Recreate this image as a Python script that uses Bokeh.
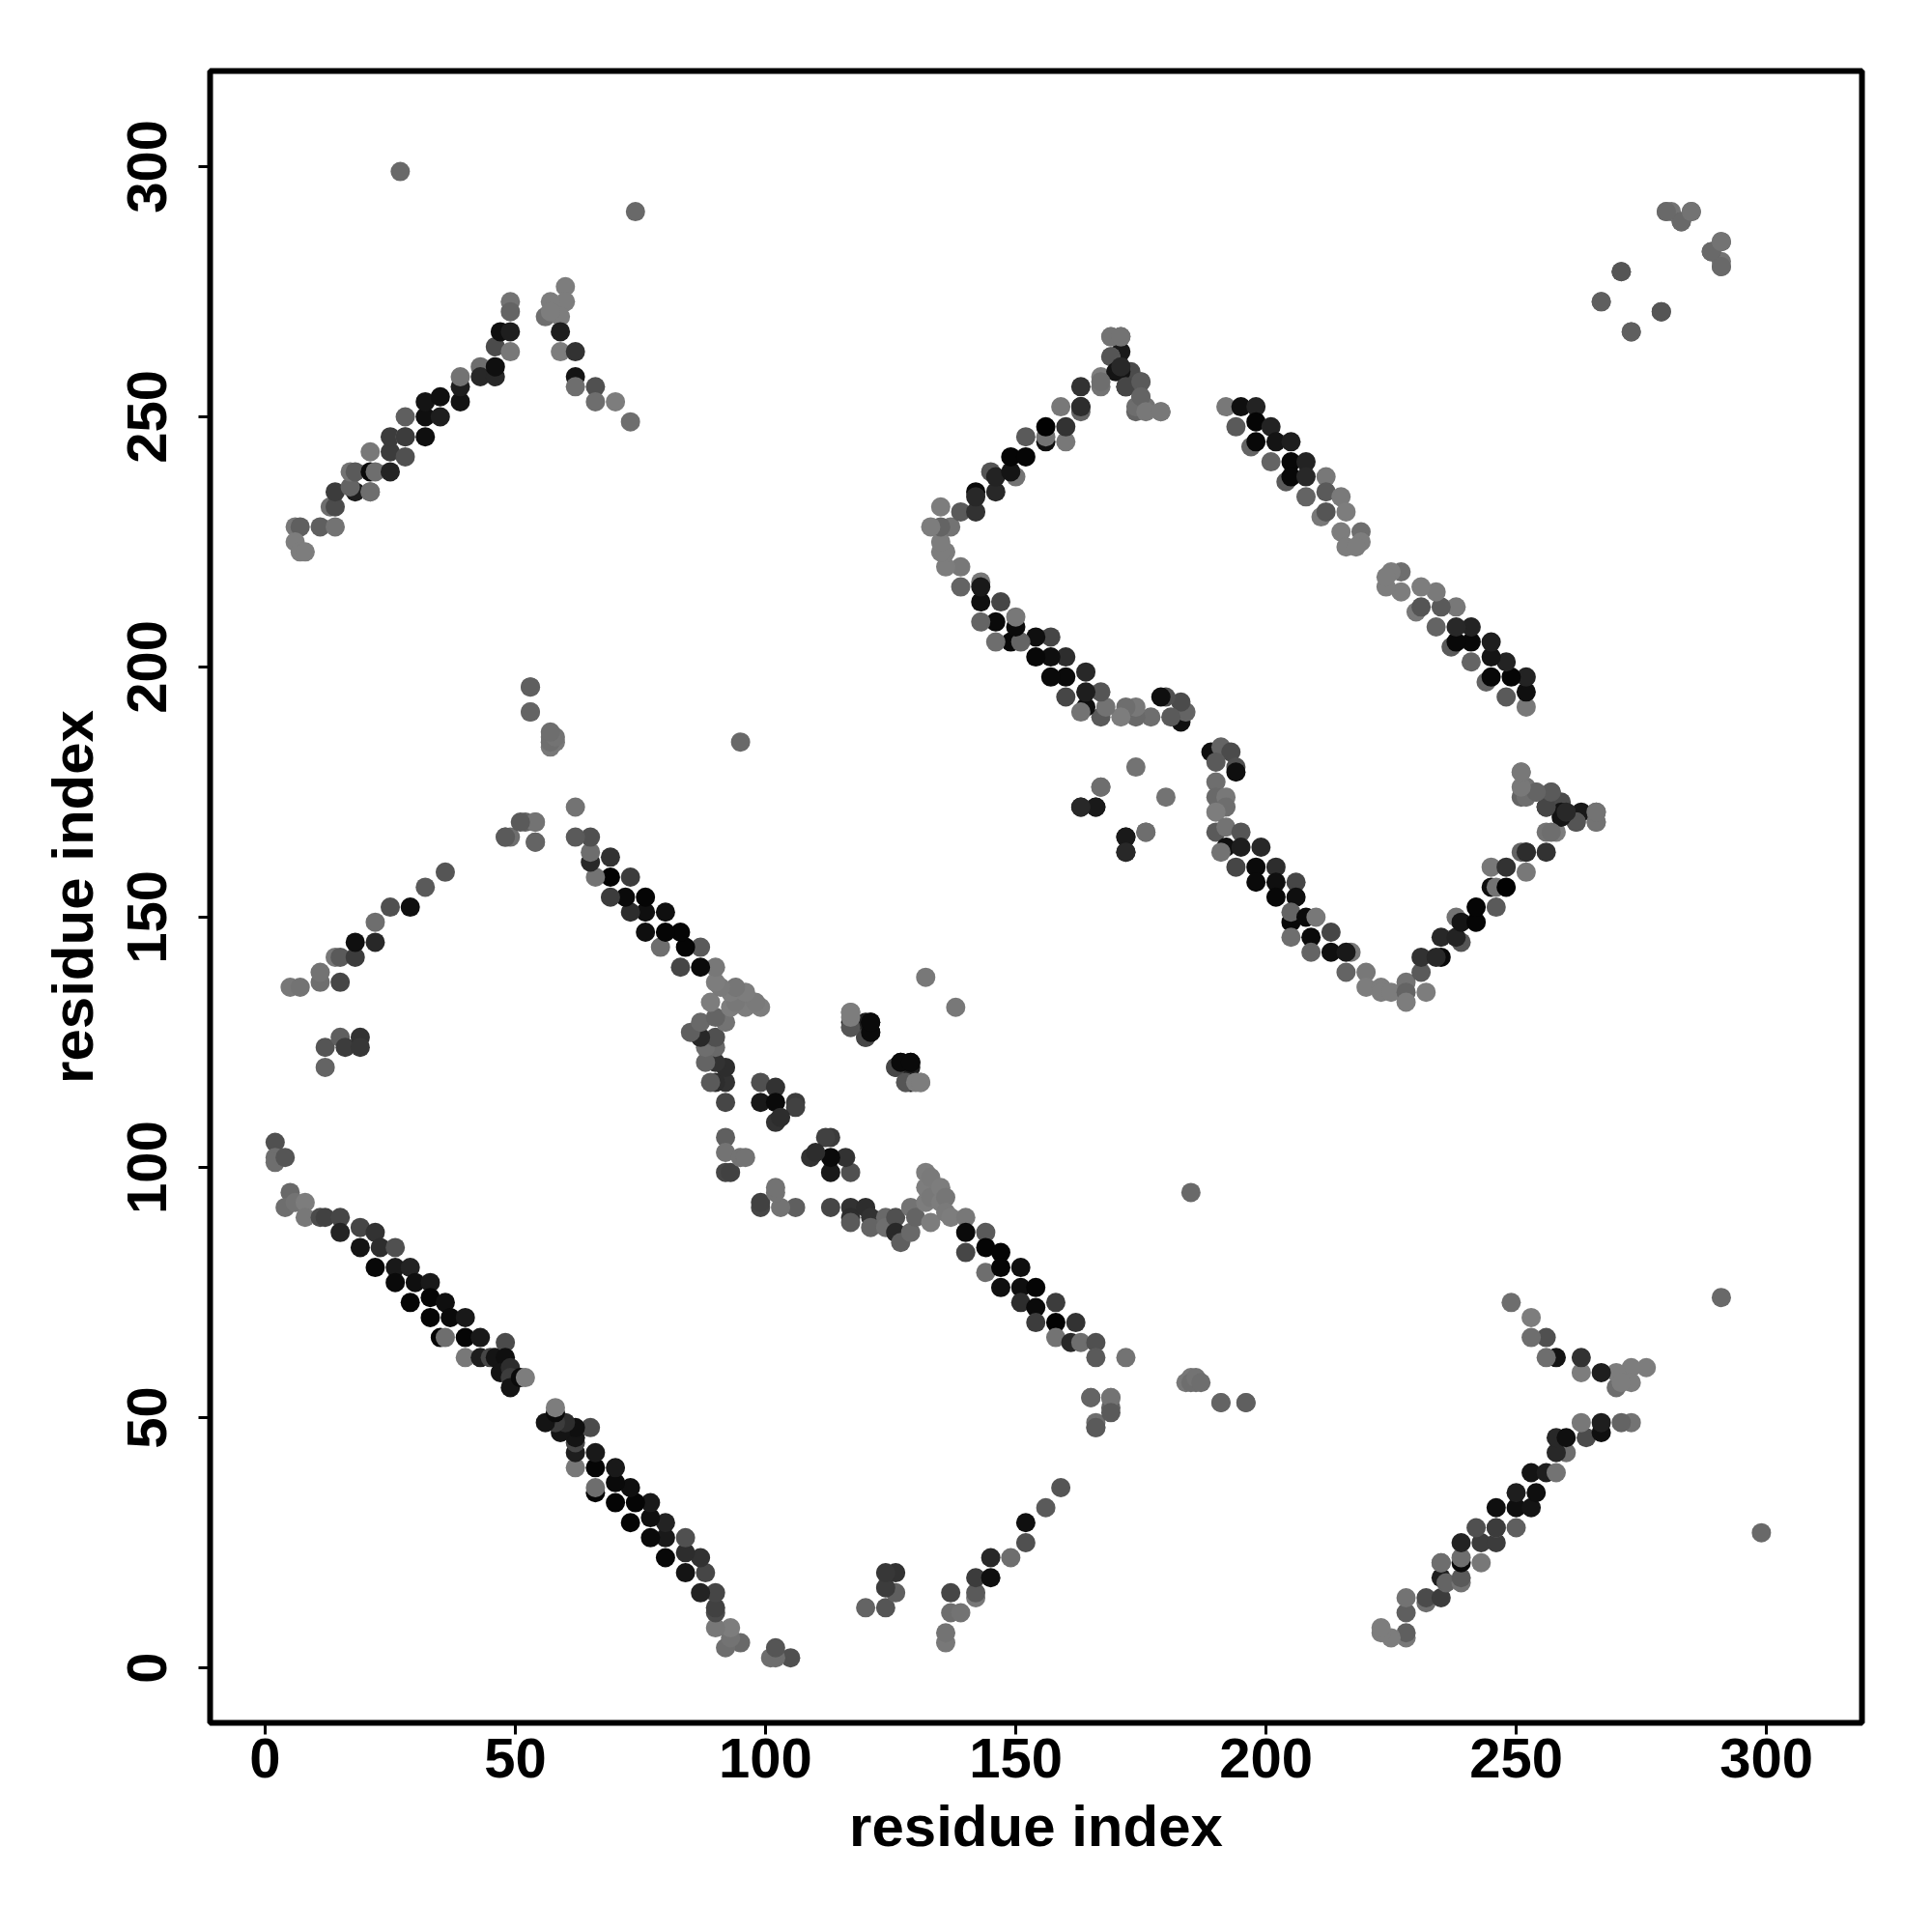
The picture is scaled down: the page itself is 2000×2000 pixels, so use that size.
from bokeh.plotting import figure
from bokeh.embed import file_html
from bokeh.resources import INLINE

# Each block: residue i, residue j, grey level (0 = black). The map is symmetric.
main_i = [2,2,2,4,5,4,6,8,8,11,12,15,15,19,19,22,22,23,26,26,26,29,30,29,33,33,33,36,37,40,35,36,40,40,43,43,45,46,48,48,47,49,49,49,51,52]
main_j = [105,102,101,102,95,92,93,93,90,90,90,90,87,88,84,87,80,84,84,80,77,80,77,73,77,74,70,73,70,70,66,66,62,66,66,62,62,62,65,62,59,60,58,56,58,58]
main_g = [80,110,110,85,105,110,115,125,120,75,65,70,35,70,20,50,8,45,80,25,10,35,15,5,25,5,5,15,10,25,5,110,120,5,25,30,70,20,75,15,20,45,60,20,10,125]

low_i = [113,117,117,117,120,121,121,124,124,126,126,127,129,129,130,132,132,132,133,133,135,135,133,136,136,137,140,140,140,144,144,147,144,147,147,151,151,154,151,154,154,158,158,162,158,161,163,166,166,172]
low_j = [92,92,90,89,92,90,88,90,88,90,87,85,92,87,90,99,96,93,98,94,96,93,89,94,91,90,90,87,83,87,84,83,79,80,76,80,76,76,73,72,69,73,69,69,66,65,65,65,62,62]
low_g = [70,50,45,90,45,50,100,105,110,80,40,95,115,105,100,125,125,125,122,120,125,125,125,118,122,125,120,10,70,90,5,5,110,5,15,15,15,5,45,10,60,60,2,50,115,40,110,80,90,115]

mid_i = [99,102,99,102,106,106,102,103,92,92,92,93,95,96,117,117,117,120,121,121,120,132,126,127,129,128,130,131]
mid_j = [117,116,113,113,113,112,109,110,106,103,99,99,102,102,131,129,128,129,129,127,126,138,120,121,121,117,117,117]
mid_g = [80,50,25,10,60,65,50,45,95,115,70,65,115,115,125,20,110,30,12,25,70,120,70,10,10,85,125,125]

strip_i = [189,191,193,190,194,194,190,190,192,192,190,190,192,195,192,191,195,199,194,198,202,198,202,206,202,206,205,205,208,210,205,209,213,209,213,217,216,216,220,220,223,223,225,228,228,228,232,231,231,235,234,235,239,238,238,239,242,242,246,245,246,248,245,248,252,252,251,256,256,258,251,252,251,252,254,257,256,259,259,263,262,266,266]
strip_j = [183,184,183,181,180,179,177,174,174,172,171,167,168,167,164,163,164,164,160,160,160,157,157,157,154,154,149,151,150,150,146,146,147,143,143,143,143,139,139,136,136,135,135,137,135,133,135,139,142,142,142,146,145,146,150,149,149,152,152,156,156,156,160,160,159,163,163,163,167,167,179,176,174,174,175,175,172,173,171,171,169,169,171]
strip_g = [15,100,75,90,80,15,110,105,120,110,125,90,115,85,15,115,30,40,70,10,45,10,15,70,8,15,8,100,10,120,110,10,70,100,15,120,25,100,120,125,125,125,125,115,100,125,125,90,50,10,40,40,85,35,115,20,5,5,90,15,115,2,120,50,120,15,100,50,115,125,125,115,100,110,120,90,15,75,20,25,115,120,90]

apex_i = [169,171,169,170,171,172,175,175,176,179,167,163]
apex_j = [266,266,262,259,260,256,257,254,251,251,257,252]
apex_g = [115,115,85,20,40,70,90,100,120,120,110,45]

pair_i = [192,195,198,194,198,201,197,198,202,205,201,205,208,204,205,208,212,208,212,215,211,212,216,215,219,216,219,218]
pair_j = [252,252,252,248,249,248,244,245,245,245,241,241,241,237,238,238,238,234,235,234,230,231,231,227,227,224,225,224]
pair_g = [120,15,35,90,5,35,100,8,20,30,100,8,35,90,8,40,120,100,90,122,120,85,125,125,110,125,125,125]

upper_i = [6,7,6,7,8,11,14,13,14,14,18,17,21,21,17,18,21,22,25,21,25,25,28,28,28,32,28,32,35,32,35,39,39,39,43,43,46,46,46,47,49,49,49,49]
upper_j = [228,228,225,223,223,228,228,232,232,235,235,236,235,235,239,239,239,239,239,243,243,246,242,246,246,246,250,250,250,253,254,253,256,258,260,258,258,260,264,267,267,263,273,271]
upper_g = [120,95,125,125,125,95,115,110,75,60,30,100,100,110,115,90,10,110,35,120,60,60,80,120,60,15,95,15,30,20,15,20,30,115,110,40,40,15,75,15,30,120,115,100]

peak_i = [60,60,57,56,59,57,59,59,62,62,62,66,66,70,73,49,52,54,54,48,57,57,58]
peak_j = [276,273,273,270,270,271,267,263,263,258,256,256,253,253,249,166,169,169,165,166,184,186,185]
peak_g = [125,125,125,110,125,125,30,125,50,20,110,80,110,125,110,110,100,105,100,105,120,115,120]

side_i = [5,7,11,11,15,14,15,18,18,22,22,25,29,32,36,12,12,15,16,19,19,53,53,95,74,27]
side_j = [136,136,137,139,137,142,142,142,145,145,149,152,152,156,159,124,120,126,124,126,124,196,191,185,291,299]
side_g = [120,115,110,115,70,120,90,60,15,40,110,80,15,90,85,85,100,95,60,50,55,100,115,105,105,105]

near_i = [163,166,167,174,172,176,172,267,271,273,279,280,281,283,285,289,291,291,165,169,166,169]
near_j = [172,172,176,180,166,167,163,273,279,267,271,291,291,289,291,283,285,280,54,54,48,51]
near_g = [30,35,110,115,25,110,40,105,70,95,85,115,115,95,95,105,115,105,100,115,90,90]

far_i = [185,186,187,191,196]
far_j = [57,58,57,53,53]
far_g = [110,115,110,100,95]

x_ticks = [0, 50, 100, 150, 200, 250, 300]
x_label = "residue index"
y_label = "residue index"

blocks = [
    (main_i, main_j, main_g), (low_i, low_j, low_g), (mid_i, mid_j, mid_g),
    (strip_i, strip_j, strip_g), (apex_i, apex_j, apex_g), (pair_i, pair_j, pair_g),
    (upper_i, upper_j, upper_g), (peak_i, peak_j, peak_g), (side_i, side_j, side_g),
    (near_i, near_j, near_g), (far_i, far_j, far_g),
]

xs, ys, cols = [], [], []
for bi, bj, bg in blocks:
    for a, b, g in zip(bi, bj, bg):
        c = "#%02x%02x%02x" % (g, g, g)
        xs += [a, b]
        ys += [b, a]
        cols += [c, c]

p = figure(
    frame_width=1710, frame_height=1710,
    x_range=(-11, 319.1), y_range=(-11, 319.1),
    output_backend="svg", toolbar_location=None,
    min_border_left=217, min_border_top=73, min_border_right=50, min_border_bottom=130,
    background_fill_color="white", border_fill_color="white",
)
p.scatter(xs, ys, size=20, color=cols, line_color=None)

p.outline_line_color = "black"
p.outline_line_width = 6
p.grid.visible = False

for ax in (p.xaxis, p.yaxis):
    ax.ticker = x_ticks
    ax.minor_tick_line_color = None
    ax.axis_line_color = None
    ax.major_tick_line_color = "black"
    ax.major_tick_line_width = 3
    ax.major_tick_in = 0
    ax.major_tick_out = 12
    ax.major_label_text_font = "Liberation Sans"
    ax.major_label_text_font_style = "bold"
    ax.major_label_text_font_size = "58px"
    ax.major_label_text_color = "black"
    ax.axis_label_text_font = "Liberation Sans"
    ax.axis_label_text_font_style = "bold"
    ax.axis_label_text_font_size = "60px"
    ax.axis_label_text_color = "black"
p.xaxis.axis_label = x_label
p.yaxis.axis_label = y_label
p.yaxis.major_label_orientation = "vertical"
p.xaxis.major_label_standoff = 4
p.xaxis.axis_label_standoff = 14
p.yaxis.major_label_standoff = 33
p.yaxis.axis_label_standoff = 21

open("out.html", "w").write(file_html(p, INLINE))
